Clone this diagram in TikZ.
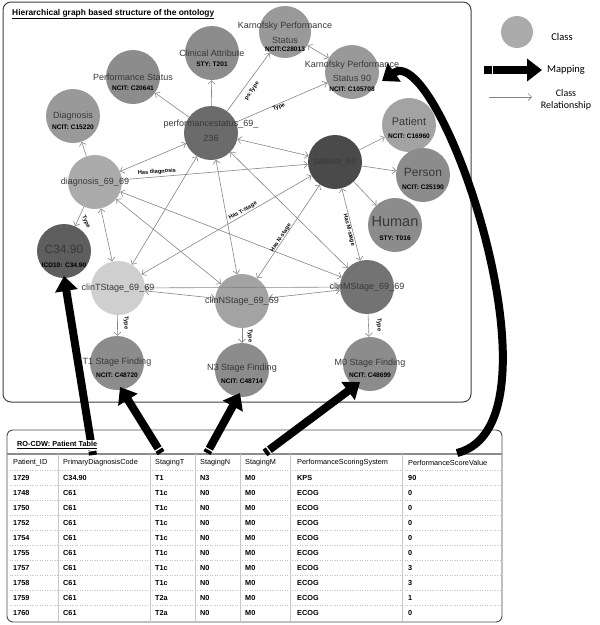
\documentclass[tikz,border=0pt]{standalone}
\usepackage{fontspec}
\setmainfont{Liberation Sans}
\newfontfamily\legfont{Carlito}
\usetikzlibrary{arrows.meta}
\definecolor{gA}{gray}{0.55}
\definecolor{gB}{gray}{0.42}
\definecolor{gP}{gray}{0.29}
\definecolor{gD}{gray}{0.67}
\definecolor{gC}{gray}{0.37}
\definecolor{gT}{gray}{0.81}
\definecolor{gN}{gray}{0.64}
\definecolor{gM}{gray}{0.45}
\definecolor{gL}{gray}{0.60}
\definecolor{txt}{gray}{0.22}
\definecolor{relc}{gray}{0.52}
\begin{document}
\begin{tikzpicture}[x=1pt,y=-1pt,
  cls/.style={circle, minimum size=54pt, inner sep=0pt, draw=none},
  nm/.style={font=\fontsize{9}{10}\selectfont, text=txt, inner sep=0pt},
  cd/.style={font=\fontsize{6.6}{7}\selectfont\bfseries, inner sep=0pt},
  rel/.style={draw=relc, line width=0.6pt, -{Straight Barb[length=3.5pt,width=7pt]}},
  rell/.style={draw=relc, line width=0.6pt, {Straight Barb[length=3.5pt,width=7pt]}-{Straight Barb[length=3.5pt,width=7pt]}},
  el/.style={font=\fontsize{5.6}{6}\selectfont\bfseries, inner sep=0pt},
  map/.style={draw=black, line width=8pt, -{Triangle[length=15pt,width=22pt]}},
  stripe/.style={sloped, fill=white, minimum width=1.2pt, minimum height=9pt, inner sep=0pt},
  th/.style={font=\fontsize{7.3}{8}\selectfont, anchor=west, inner sep=0pt},
  td/.style={font=\fontsize{7.3}{8}\selectfont\bfseries, anchor=west, inner sep=0pt}]
\useasboundingbox (0,0) rectangle (600,625);
% frames
\draw[rounded corners=8pt, draw=black!75, line width=1pt] (3,2) rectangle (471,402);
\node[anchor=west, inner sep=0pt, font=\fontsize{8.4}{9}\selectfont\bfseries] (title) at (12,14) {\underline{Hierarchical graph based structure of the ontology}};

% class nodes
\node[cls, fill=gA] (clin) at (212,53) {};
\node[nm] (clinA) at (212,53) {Clinical Attribute};
\node[cd] (clinB) at (212,64) {STY: T201};
\node[cls, fill=gA] (perf) at (133,77) {};
\node[nm] (perfA) at (133,77) {Performance Status};
\node[cd] (perfB) at (133,88) {NCIT: C20641};
\node[cls, fill=gL] (diag) at (73,116) {};
\node[nm] (diagA) at (73,116) {Diagnosis};
\node[cd] (diagB) at (73,127) {NCIT: C15220};
\node[cls, fill=gB] (ps) at (211,133) {};
\node[nm] (psA) at (211,124) {performancestatus\_69\_};
\node[nm] (psB) at (211,138) {236};
\node[cls, fill=gL, minimum size=52pt] (karn) at (285,32) {};
\node[nm] (karnA) at (285,26) {Karnofsky Performance};
\node[nm] (karnB) at (285,40) {Status};
\node[cd] (karnC) at (285,49) {NCIT:C28013};
\node[cls, fill=gL] (k90) at (352,72) {};
\node[nm] (k90A) at (352,65) {Karnofsky Performance};
\node[nm] (k90B) at (352,78) {Status 90};
\node[cd] (k90C) at (352,89) {NCIT: C105708};
\node[cls, fill=gN] (pat) at (409,125) {};
\node[nm, font=\fontsize{11}{12}\selectfont] (patA) at (409,122) {Patient};
\node[cd] (patB) at (409,136) {NCIT: C16960};
\node[cls, fill=gA] (pers) at (423,175) {};
\node[nm, font=\fontsize{12}{13}\selectfont] (persA) at (423,172) {Person};
\node[cd] (persB) at (423,187) {NCIT: C25190};
\node[cls, fill=gA] (hum) at (395,225) {};
\node[nm, font=\fontsize{14.5}{15}\selectfont] (humA) at (395,222) {Human};
\node[cd] (humB) at (395,238) {STY: T016};
\node[cls, fill=gP] (p69) at (335,162) {};
\node[nm] (p69A) at (335,162) {patient\_69};
\node[cls, fill=gD] (d69) at (95,182) {};
\node[nm] (d69A) at (95,182) {diagnosis\_69\_69};
\node[cls, fill=gC] (c34) at (64,251) {};
\node[nm, font=\fontsize{12}{13}\selectfont] (c34A) at (64,249) {C34.90};
\node[cd] (c34B) at (64,265) {ICD10: C34.90};
\node[cls, fill=gT] (ct) at (118,288) {};
\node[cls, fill=gN] (cn) at (242,301) {};
\node[cls, fill=gM] (cm) at (367,287) {};
\node[cls, fill=gA] (t1) at (117,363) {};
\node[nm] (t1A) at (117,362) {T1 Stage Finding};
\node[cd] (t1B) at (117,375) {NCIT: C48720};
\node[cls, fill=gA] (n3) at (242,370) {};
\node[nm] (n3A) at (242,368) {N3 Stage Finding};
\node[cd] (n3B) at (242,381) {NCIT: C48714};
\node[cls, fill=gA] (m0) at (370,364) {};
\node[nm] (m0A) at (370,363) {M0 Stage Finding};
\node[cd] (m0B) at (370,375) {NCIT: C48699};

% relationships
\draw[rel] (ps) -- (perf);
\draw[rel] (ps) -- (clin);
\draw[rel] (ps) -- (karn);
\draw[rel] (ps) -- (k90);
\draw[rell] (karn) -- (k90);
\draw[rel] (d69) -- (diag);
\draw[rel] (d69) -- (c34);
\draw[rell] (ps) -- (d69);
\draw[rell] (ps) -- (p69);
\draw[rel] (d69) -- (p69);
\draw[rel] (p69) -- (pat);
\draw[rel] (p69) -- (pers);
\draw[rel] (p69) -- (hum);
\draw[rell] (p69) -- (ct);
\draw[rell] (p69) -- (cn);
\draw[rell] (p69) -- (cm);
\draw[rell] (ps) -- (ct);
\draw[rell] (ps) -- (cn);
\draw[rell] (ps) -- (cm);
\draw[rell] (d69) -- (ct);
\draw[rell] (d69) -- (cn);
\draw[rell] (d69) -- (cm);
\draw[rell] (ct) -- (cm);
\draw[rell] (ct) -- (cn);
\draw[rell] (cn) -- (cm);
\draw[rel] (ct) -- (t1);
\draw[rel] (cn) -- (n3);
\draw[rel] (cm) -- (m0);

% instance labels drawn over the lines
\node[nm] (ctA) at (118,288) {clinTStage\_69\_69};
\node[nm] (cnA) at (242,301) {clinNStage\_69\_69};
\node[nm] (cmA) at (367,287) {clinMStage\_69\_69};

% edge labels
\node[el, rotate=56] (lpsT) at (252,91) {ps:Type};
\node[el, rotate=22] (lT) at (279,107) {Type};
\node[el, rotate=4.5] (lHd) at (157,172) {Has diagnosis};
\node[el, rotate=29.5] (lHt) at (243,211) {Has T-stage};
\node[el, rotate=56] (lHn) at (281,238) {Has N-stage};
\node[el, rotate=-76] (lHm) at (349,230) {Has M-stage};
\node[el, rotate=-66] (lT0) at (86,222) {Type};
\node[el, rotate=-90] (lT1) at (126,323) {Type};
\node[el, rotate=-90] (lT2) at (250,336) {Type};
\node[el, rotate=-90] (lT3) at (379,325) {Type};

% legend
\node[circle, minimum size=32pt, inner sep=0pt, fill=gD] (legC) at (517,32) {};
\node[font=\legfont\fontsize{10.5}{12}\selectfont, inner sep=0pt] (legCt) at (562,37) {Class};
\coordinate (legMa) at (484,70);
\coordinate (legMb) at (542,70);
\node[font=\legfont\fontsize{10.5}{12}\selectfont, inner sep=0pt] (legMt) at (566,70) {Mapping};
\coordinate (legRa) at (489,97);
\coordinate (legRb) at (532,97);
\draw[draw=relc, line width=0.6pt, -{Straight Barb[length=3.5pt,width=7pt]}] (legRa) -- (legRb);
\node[font=\legfont\fontsize{10}{12}\selectfont, inner sep=0pt, align=center] (legRt) at (566,100) {Class\\Relationship};

% table
\draw[rounded corners=6pt, draw=black!70, line width=0.9pt] (7,430) rectangle (502,622);
\draw[draw=black!45, line width=1.4pt] (7,454) -- (502,454);
\foreach \xx in {58,150,195,240,290,402} \draw[draw=black!22, line width=0.5pt] (\xx,454) -- (\xx,622);
\foreach \k in {0,...,9} \draw[draw=black!25, line width=0.5pt, dotted] (7,470.5+15*\k) -- (502,470.5+15*\k);
\node[th] (h1) at (13,463) {Patient\_ID};
\node[th] (h2) at (63,463) {PrimaryDiagnosisCode};
\node[th] (h3) at (155,463) {StagingT};
\node[th] (h4) at (200,463) {StagingN};
\node[th] (h5) at (245,463) {StagingM};
\node[th] (h6) at (297,463) {PerformanceScoringSystem};
\node[th] (h7) at (408,463) {PerformanceScoreValue};
\foreach \a/\b/\c/\d/\e/\f/\g [count=\k from 0] in {1729/C34.90/T1/N3/M0/KPS/90, 1748/C61/T1c/N0/M0/ECOG/0, 1750/C61/T1c/N0/M0/ECOG/0, 1752/C61/T1c/N0/M0/ECOG/0, 1754/C61/T1c/N0/M0/ECOG/0, 1755/C61/T1c/N0/M0/ECOG/0, 1757/C61/T1c/N0/M0/ECOG/3, 1758/C61/T1c/N0/M0/ECOG/3, 1759/C61/T2a/N0/M0/ECOG/1, 1760/C61/T2a/N0/M0/ECOG/0} {
  \node[td] (r\k a) at (13,478+15*\k) {\a};
  \node[td] (r\k b) at (63,478+15*\k) {\b};
  \node[td] (r\k c) at (155,478+15*\k) {\c};
  \node[td] (r\k d) at (200,478+15*\k) {\d};
  \node[td] (r\k e) at (245,478+15*\k) {\e};
  \node[td] (r\k f) at (297,478+15*\k) {\f};
  \node[td] (r\k g) at (408,478+15*\k) {\g};
}

% mapping arrows
\coordinate (mDx) at (93,455);
\coordinate (mT) at (161,453);
\coordinate (mN) at (207,453);
\coordinate (mM) at (265,453);
\coordinate (mV) at (457,453);
\coordinate (hC) at (64,276);
\coordinate (hT) at (120,387);
\coordinate (hN) at (240,393);
\coordinate (hM) at (360,382);
\coordinate (hK) at (382,81);
\draw[map] (mDx) -- (hC) node[stripe, pos=0.025] (sD) {};
\draw[map] (mT) -- (hT) node[stripe, pos=0.06] (sT) {};
\draw[map] (mN) -- (hN) node[stripe, pos=0.06] (sN) {};
\draw[map] (mM) -- (hM) node[stripe, pos=0.04] (sM) {};
\draw[map] (mV) .. controls (572,425) and (440,40) .. (hK);
\draw[map] (legMa) -- (legMb) node[stripe, pos=0.15, minimum height=10pt] (sL) {};
\node[anchor=west, inner sep=1pt, fill=white, font=\fontsize{7.3}{8}\selectfont\bfseries] (ttitle) at (16,445) {\underline{RO-CDW: Patient Table}};
\end{tikzpicture}
\end{document}
